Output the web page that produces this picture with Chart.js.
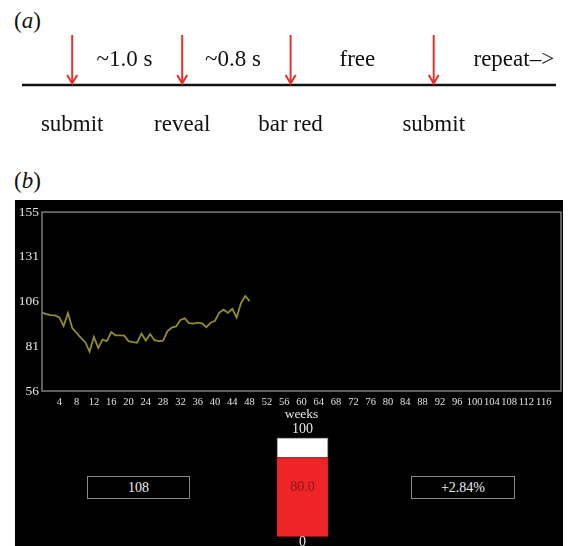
<!DOCTYPE html>
<html>
<head>
<meta charset="utf-8">
<script src="https://cdn.jsdelivr.net/npm/chart.js@4.4.1/dist/chart.umd.min.js"></script>
<style>
  body { margin:0; background:#fff; width:574px; height:546px; overflow:hidden; position:relative; font-family:"Liberation Serif", serif; }
  .abs { position:absolute; }
  .tag { font-size:23px; color:#111; }
  #panel { left:15px; top:200px; width:548px; height:346px; background:#000; }
  .box { height:21px; border:1.5px solid #8a8a8a; color:#eee; font-family:"Liberation Serif", serif; font-size:14px; text-align:center; line-height:21px; box-sizing:content-box; }
</style>
</head>
<body>
<div class="abs tag" style="left:14px; top:8px;">(<i>a</i>)</div>
<div class="abs tag" style="left:14px; top:168px;">(<i>b</i>)</div>
<canvas id="timeline" class="abs" style="left:0; top:0; width:574px; height:150px;"></canvas>
<div id="panel" class="abs"></div>
<canvas id="prices" class="abs" style="left:15px; top:201px; width:548px; height:225px;"></canvas>
<canvas id="feedback" class="abs" style="left:256px; top:420px; width:93px; height:126px;"></canvas>
<div id="boxPrice" class="abs box" style="left:87px; top:476px; width:101px;"></div>
<div id="boxChange" class="abs box" style="left:411px; top:476px; width:102px;"></div>
<script>
// Datos del panel (a): linea de tiempo
const eventos = ["submit", "reveal", "bar red", "submit"];
const posEventos = [9.4, 30.0, 50.3, 77.1];
const intervalos = ["~1.0 s", "~0.8 s", "free", "repeat\u2013>"];
const posIntervalos = [19.2, 39.5, 62.8, 92.1];

// Datos del panel (b): precio por semana
const semanas = [0,1,2,3,4,5,6,7,8,9,10,11,12,13,14,15,16,17,18,19,20,21,22,23,24,
  25,26,27,28,29,30,31,32,33,34,35,36,37,38,39,40,41,42,43,44,45,46,47,48];
const precios = [99.4,98.5,98.0,97.8,96.7,92.0,99.2,90.8,88.1,85.4,83.0,77.8,85.9,79.9,84.5,
  83.6,88.6,86.8,86.8,86.6,83.6,83.0,82.7,87.7,83.9,87.5,84.1,83.6,83.9,89.0,91.1,91.7,
  95.3,96.2,93.5,93.3,93.8,93.5,91.3,93.8,94.9,99.4,101.0,99.2,101.5,96.7,104.6,108.6,105.7];
const ticksY = [56, 80.75, 105.5, 130.25, 155];
const etiquetasY = ["56", "81", "106", "131", "155"];
const ticksX = [4,8,12,16,20,24,28,32,36,40,44,48,52,56,60,64,68,72,76,80,84,88,92,96,100,104,108,112,116];

// Barra de confianza y cajas
const barraValor = 80.0;
const barraMax = 100;
const precioActual = "108";
const cambio = "+2.84%";

Chart.defaults.animation = false;
Chart.defaults.font.family = "'Liberation Serif', serif";

document.getElementById("boxPrice").textContent = precioActual;
document.getElementById("boxChange").textContent = cambio;

// Panel (a)
const dibujarLinea = {
  id: "dibujarLinea",
  afterDatasetsDraw(chart) {
    const ctx = chart.ctx;
    const x = chart.scales.x, y = chart.scales.y;
    const base = y.getPixelForValue(0);
    ctx.save();
    ctx.strokeStyle = "#111";
    ctx.lineWidth = 2.5;
    ctx.beginPath();
    ctx.moveTo(x.left, base);
    ctx.lineTo(x.right, base);
    ctx.stroke();

    ctx.strokeStyle = "#e8312b";
    ctx.lineWidth = 2;
    posEventos.forEach((p, i) => {
      const px = x.getPixelForValue(p);
      const top = y.getPixelForValue(1);
      ctx.beginPath();
      ctx.moveTo(px, top);
      ctx.lineTo(px, base - 1.5);
      ctx.moveTo(px - 5, base - 10);
      ctx.lineTo(px, base - 1.5);
      ctx.lineTo(px + 5, base - 10);
      ctx.stroke();
    });

    ctx.fillStyle = "#111";
    ctx.font = "23px 'Liberation Serif'";
    ctx.textAlign = "center";
    ctx.textBaseline = "middle";
    intervalos.forEach((t, i) => {
      ctx.fillText(t, x.getPixelForValue(posIntervalos[i]), y.getPixelForValue(0.5));
    });
    eventos.forEach((t, i) => {
      ctx.fillText(t, x.getPixelForValue(posEventos[i]), base + 40);
    });
    ctx.restore();
  }
};

new Chart(document.getElementById("timeline"), {
  type: "scatter",
  data: { datasets: [{ data: posEventos.map(p => ({ x: p, y: 0 })), pointRadius: 0 }] },
  options: {
    responsive: false,
    layout: { padding: { left: 22, right: 18, top: 35, bottom: 65 } },
    plugins: { legend: { display: false }, tooltip: { enabled: false } },
    scales: {
      x: { display: false, min: 0, max: 100 },
      y: { display: false, min: 0, max: 1 }
    }
  },
  plugins: [dibujarLinea]
});

// Panel (b): grafico de precios
const marco = {
  id: "marco",
  afterDraw(chart) {
    const a = chart.chartArea;
    const ctx = chart.ctx;
    ctx.save();
    ctx.strokeStyle = "#7d7d7d";
    ctx.lineWidth = 1.5;
    ctx.strokeRect(a.left, a.top, a.right - a.left, a.bottom - a.top);
    ctx.restore();
  }
};

new Chart(document.getElementById("prices"), {
  type: "line",
  data: {
    datasets: [{
      data: semanas.map((s, i) => ({ x: s, y: precios[i] })),
      borderColor: "#8f8d2e",
      borderWidth: 1.8,
      pointRadius: 0,
      tension: 0
    }]
  },
  options: {
    responsive: false,
    layout: { padding: { left: 0, right: 2, top: 6.5, bottom: 0 } },
    plugins: { legend: { display: false }, tooltip: { enabled: false } },
    scales: {
      x: {
        type: "linear",
        min: 0,
        max: 120,
        afterBuildTicks: s => { s.ticks = ticksX.map(v => ({ value: v })); },
        afterFit: s => { s.height = 35; },
        grid: { display: false, drawTicks: false },
        border: { display: false },
        ticks: { color: "#e0e0e0", font: { size: 10.5 }, padding: 5, autoSkip: false, maxRotation: 0 },
        title: { display: true, text: "weeks", color: "#e6e6e6", font: { size: 13.5 }, padding: { top: 0, bottom: 3 } }
      },
      y: {
        min: 56,
        max: 155,
        afterBuildTicks: s => { s.ticks = ticksY.map(v => ({ value: v })); },
        afterFit: s => { s.width = 27; },
        grid: { display: false, drawTicks: false },
        border: { display: false },
        ticks: { color: "#e6e6e6", font: { size: 13.5 }, padding: 3, callback: (v, i) => etiquetasY[i] }
      }
    }
  },
  plugins: [marco]
});

// Barra roja
const textosBarra = {
  id: "textosBarra",
  afterDraw(chart) {
    const ctx = chart.ctx;
    const y = chart.scales.y;
    const a = chart.chartArea;
    const cx = (a.left + a.right) / 2;
    ctx.save();
    ctx.textAlign = "center";
    ctx.textBaseline = "middle";
    ctx.font = "14px 'Liberation Serif'";
    ctx.fillStyle = "#e8e8e8";
    ctx.fillText(String(barraMax), cx, y.getPixelForValue(barraMax) - 8);
    ctx.fillText("0", cx, y.getPixelForValue(0) + 6);
    ctx.fillStyle = "#8c1418";
    ctx.fillText(barraValor.toFixed(1), cx, y.getPixelForValue(barraMax / 2));
    ctx.restore();
  }
};

new Chart(document.getElementById("feedback"), {
  type: "bar",
  data: {
    labels: ["bar"],
    datasets: [
      { data: [barraValor], backgroundColor: "#ee2428", borderColor: "#c81e22", borderWidth: 1 },
      { data: [barraMax - barraValor], backgroundColor: "#ffffff", borderColor: "#9a9a9a", borderWidth: 1.5 }
    ]
  },
  options: {
    responsive: false,
    layout: { padding: { left: 20.7, right: 20.7, top: 17.7, bottom: 9.3 } },
    datasets: { bar: { barPercentage: 1, categoryPercentage: 1 } },
    plugins: { legend: { display: false }, tooltip: { enabled: false } },
    scales: {
      x: { display: false, stacked: true },
      y: { display: false, stacked: true, min: 0, max: barraMax }
    }
  },
  plugins: [textosBarra]
});
</script>
</body>
</html>
